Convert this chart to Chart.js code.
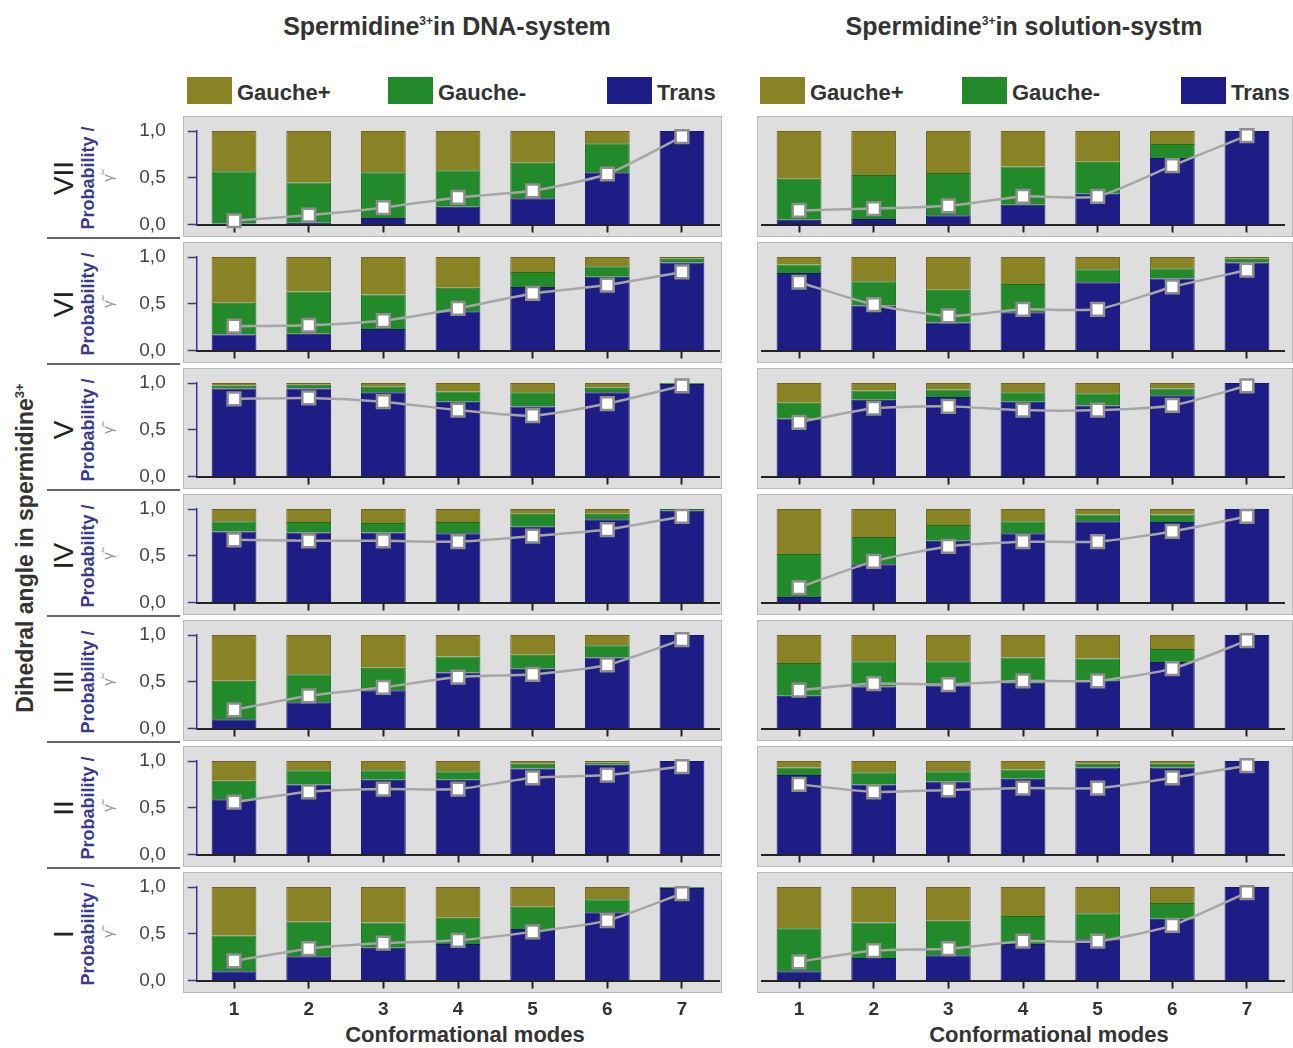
<!DOCTYPE html>
<html>
<head>
<meta charset="utf-8">
<title>Spermidine dihedral angles</title>
<script src="https://cdn.jsdelivr.net/npm/chart.js@4.4.1/dist/chart.umd.min.js"></script>
<style>
  body { margin: 0; background: #fff; }
  #page { position: relative; width: 1293px; height: 1048px; overflow: hidden; font-family: "Liberation Sans", Arial, sans-serif; color: #333; }
  canvas { position: absolute; }
  .title { position: absolute; top: 11px; width: 420px; line-height: 30px; text-align: center; font-weight: bold; font-size: 25px; }
  .title sup { font-size: 12px; vertical-align: 10px; line-height: 0; }
  .swatch { position: absolute; top: 77px; width: 45px; height: 27px; }
  .lg { position: absolute; top: 78px; line-height: 30px; font-weight: bold; font-size: 22px; }
  .rot { position: absolute; transform: translate(-50%, -50%) rotate(-90deg); white-space: nowrap; text-align: center; }
  .roman { font-size: 28px; color: #222; line-height: 30px; }
  .prob { font-weight: bold; font-size: 18px; color: #3a3a8c; line-height: 19px; }
  .gam { color: #9a9a9a; font-weight: normal; font-size: 15px; }
  .dihedral { font-weight: bold; font-size: 23px; color: #333; }
  .dihedral sup { font-size: 13px; line-height: 0; }
  .sep { position: absolute; left: 47px; width: 133px; height: 2px; background: #666; }
  .xtitle { position: absolute; top: 1020px; width: 400px; line-height: 30px; text-align: center; font-weight: bold; font-size: 22px; }
</style>
</head>
<body>
<div id="page">
  <div class="title" style="left:237px">Spermidine<sup>3+</sup>in DNA-system</div>
  <div class="title" style="left:814px">Spermidine<sup>3+</sup>in solution-systm</div>

  <!-- legends (same for both sides) -->
  <div class="swatch" style="left:187px;background:#8a8326"></div><div class="lg" style="left:237px">Gauche+</div>
  <div class="swatch" style="left:388px;background:#228a2a"></div><div class="lg" style="left:438px">Gauche-</div>
  <div class="swatch" style="left:607px;background:#1d1d85"></div><div class="lg" style="left:657px">Trans</div>
  <div class="swatch" style="left:760px;background:#8a8326"></div><div class="lg" style="left:810px">Gauche+</div>
  <div class="swatch" style="left:962px;background:#228a2a"></div><div class="lg" style="left:1012px">Gauche-</div>
  <div class="swatch" style="left:1181px;background:#1d1d85"></div><div class="lg" style="left:1231px">Trans</div>

  <div class="rot dihedral" style="left:25px;top:548px">Dihedral angle in spermidine<sup>3+</sup></div>

  <div class="xtitle" style="left:265px">Conformational modes</div>
  <div class="xtitle" style="left:849px">Conformational modes</div>
</div>

<script>
// categories and labels
const modes = ['1', '2', '3', '4', '5', '6', '7'];
const rowLabels = ['VII', 'VI', 'V', 'IV', 'III', 'II', 'I'];
const yTickMarks = [0, 0.25, 0.5, 0.75, 1];
const yTickLabels = ['0,0', '', '0,5', '', '1,0'];

// DNA-system, one row per dihedral (VII at top ... I at bottom)
const dnaTrans = [
  [0.01, 0.02, 0.07, 0.19, 0.28, 0.56, 1.00],
  [0.17, 0.18, 0.23, 0.42, 0.68, 0.79, 0.94],
  [0.94, 0.94, 0.90, 0.80, 0.75, 0.90, 0.99],
  [0.76, 0.75, 0.75, 0.74, 0.81, 0.89, 0.98],
  [0.10, 0.28, 0.41, 0.60, 0.64, 0.76, 1.00],
  [0.59, 0.75, 0.80, 0.80, 0.92, 0.96, 1.00],
  [0.10, 0.26, 0.35, 0.39, 0.55, 0.73, 0.99]
];
const dnaGaucheMinus = [
  [0.56, 0.43, 0.49, 0.39, 0.38, 0.31, 0.00],
  [0.34, 0.45, 0.37, 0.25, 0.16, 0.11, 0.04],
  [0.03, 0.04, 0.06, 0.11, 0.15, 0.05, 0.01],
  [0.11, 0.11, 0.10, 0.12, 0.14, 0.06, 0.02],
  [0.41, 0.30, 0.24, 0.17, 0.15, 0.13, 0.00],
  [0.20, 0.15, 0.10, 0.09, 0.05, 0.02, 0.00],
  [0.38, 0.37, 0.27, 0.28, 0.24, 0.14, 0.01]
];
const dnaGauchePlus = [
  [0.43, 0.55, 0.44, 0.42, 0.34, 0.13, 0.00],
  [0.49, 0.37, 0.40, 0.33, 0.16, 0.10, 0.02],
  [0.03, 0.02, 0.04, 0.09, 0.10, 0.05, 0.00],
  [0.13, 0.14, 0.15, 0.14, 0.05, 0.05, 0.00],
  [0.49, 0.42, 0.35, 0.23, 0.21, 0.11, 0.00],
  [0.21, 0.10, 0.10, 0.11, 0.03, 0.02, 0.00],
  [0.52, 0.37, 0.38, 0.33, 0.21, 0.13, 0.00]
];
const dnaGamma = [
  [0.04, 0.10, 0.18, 0.29, 0.36, 0.54, 0.94],
  [0.26, 0.27, 0.32, 0.45, 0.61, 0.70, 0.84],
  [0.83, 0.84, 0.80, 0.71, 0.65, 0.78, 0.97],
  [0.67, 0.66, 0.66, 0.65, 0.71, 0.78, 0.92],
  [0.20, 0.35, 0.44, 0.55, 0.58, 0.68, 0.95],
  [0.56, 0.67, 0.70, 0.70, 0.82, 0.85, 0.94],
  [0.21, 0.34, 0.40, 0.43, 0.52, 0.64, 0.93]
];

// solution-system
const solTrans = [
  [0.05, 0.06, 0.10, 0.21, 0.33, 0.71, 1.00],
  [0.83, 0.48, 0.30, 0.41, 0.73, 0.77, 0.94],
  [0.62, 0.82, 0.85, 0.80, 0.76, 0.87, 1.00],
  [0.06, 0.41, 0.66, 0.74, 0.87, 0.86, 1.00],
  [0.35, 0.45, 0.46, 0.49, 0.51, 0.71, 1.00],
  [0.85, 0.75, 0.78, 0.81, 0.93, 0.93, 1.00],
  [0.10, 0.24, 0.27, 0.39, 0.44, 0.66, 1.00]
];
const solGaucheMinus = [
  [0.44, 0.47, 0.45, 0.41, 0.34, 0.15, 0.00],
  [0.09, 0.26, 0.35, 0.30, 0.14, 0.11, 0.04],
  [0.17, 0.10, 0.08, 0.10, 0.13, 0.07, 0.00],
  [0.46, 0.29, 0.17, 0.13, 0.07, 0.08, 0.00],
  [0.35, 0.27, 0.26, 0.27, 0.24, 0.14, 0.00],
  [0.08, 0.13, 0.11, 0.10, 0.04, 0.04, 0.00],
  [0.46, 0.38, 0.37, 0.30, 0.28, 0.17, 0.00]
];
const solGauchePlus = [
  [0.51, 0.47, 0.45, 0.38, 0.33, 0.14, 0.00],
  [0.08, 0.26, 0.35, 0.29, 0.13, 0.12, 0.02],
  [0.21, 0.08, 0.07, 0.10, 0.11, 0.06, 0.00],
  [0.48, 0.30, 0.17, 0.13, 0.06, 0.06, 0.00],
  [0.30, 0.28, 0.28, 0.24, 0.25, 0.15, 0.00],
  [0.07, 0.12, 0.11, 0.09, 0.03, 0.03, 0.00],
  [0.44, 0.38, 0.36, 0.31, 0.28, 0.17, 0.00]
];
const solGamma = [
  [0.15, 0.17, 0.20, 0.30, 0.30, 0.63, 0.95],
  [0.73, 0.49, 0.37, 0.44, 0.44, 0.68, 0.86],
  [0.58, 0.73, 0.75, 0.71, 0.71, 0.76, 0.97],
  [0.16, 0.44, 0.60, 0.65, 0.65, 0.76, 0.92],
  [0.41, 0.48, 0.47, 0.51, 0.51, 0.64, 0.94],
  [0.75, 0.67, 0.69, 0.71, 0.71, 0.82, 0.95],
  [0.20, 0.32, 0.34, 0.42, 0.42, 0.59, 0.94]
];

const FONT = '"Liberation Sans", Arial, sans-serif';
const ROW_TOP = 114;
const ROW_PITCH = 126;
const AXIS_Y0 = 110.5;   // y of 0,0 inside a panel canvas
const page = document.getElementById('page');

// grey plot box behind each panel
const panelBox = {
  id: 'panelBox',
  beforeDraw(chart, args, o) {
    const ctx = chart.ctx;
    ctx.save();
    ctx.fillStyle = '#dedede';
    ctx.fillRect(o.x, o.y, o.w, o.h);
    ctx.strokeStyle = '#b9b9b9';
    ctx.lineWidth = 1;
    ctx.strokeRect(o.x + 0.5, o.y + 0.5, o.w - 1, o.h - 1);
    ctx.restore();
  }
};

function addDiv(cls, html, style) {
  const d = document.createElement('div');
  d.className = cls;
  d.innerHTML = html;
  d.style.cssText = style;
  page.appendChild(d);
}

function makePanel(isLeft, row, trans, gMinus, gPlus, gamma) {
  const isBottom = row === rowLabels.length - 1;
  const width = isLeft ? 604 : 536;
  const height = isBottom ? 178 : 126;
  const cv = document.createElement('canvas');
  cv.width = width;
  cv.height = height;
  cv.style.left = (isLeft ? 120 : 757) + 'px';
  cv.style.top = (ROW_TOP + ROW_PITCH * row) + 'px';
  page.appendChild(cv);

  const yScale = {
    display: isLeft,
    stacked: true,
    min: 0,
    max: 1,
    afterBuildTicks: s => { s.ticks = yTickMarks.map(v => ({ value: v })); },
    ticks: { callback: (v, i) => yTickLabels[i], color: '#444', padding: 22, font: { family: FONT, size: 19 } },
    grid: { drawOnChartArea: false, tickLength: 9, tickWidth: 1.5, tickColor: '#3a3a8c' },
    border: { color: '#3a3a8c', width: 1.5 }
  };
  if (isLeft) {
    // fixed axis width, and keep the tick labels from pushing the plot area in
    yScale.afterFit = s => { s.width = 76.7; s.paddingTop = 0; s.paddingBottom = 0; };
  }

  new Chart(cv, {
    type: 'bar',
    data: {
      labels: modes,
      datasets: [
        {
          type: 'line', label: 'gamma', data: gamma, yAxisID: 'y2', order: 0,
          borderColor: '#a6a6a6', borderWidth: 2.5, tension: 0.2,
          pointStyle: 'rect', pointRadius: 9, pointBackgroundColor: '#fff',
          pointBorderColor: '#8e8e8e', pointBorderWidth: 2.5, clip: false
        },
        { label: 'Trans', data: trans, backgroundColor: '#1d1d85', borderColor: '#16166a', borderWidth: 1, order: 1 },
        { label: 'Gauche-', data: gMinus, backgroundColor: '#228a2a', borderColor: '#18701f', borderWidth: 1, order: 1 },
        { label: 'Gauche+', data: gPlus, backgroundColor: '#8a8326', borderColor: '#6c661b', borderWidth: 1, order: 1 }
      ]
    },
    options: {
      responsive: false,
      animation: false,
      events: [],
      barPercentage: 0.6,
      categoryPercentage: 1,
      layout: { autoPadding: false, padding: { top: 17, bottom: 0, left: isLeft ? 0 : 4.7, right: isLeft ? 4.7 : 8.7 } },
      plugins: {
        legend: { display: false },
        tooltip: { enabled: false },
        panelBox: isLeft ? { x: 63, y: 2, w: 539, h: 121 } : { x: 0, y: 2, w: 536, h: 121 }
      },
      scales: {
        x: {
          stacked: true,
          grid: { drawOnChartArea: false, offset: false, tickLength: 8, tickWidth: 2, tickColor: '#222' },
          border: { color: '#222', width: 2 },
          ticks: { display: isBottom, color: '#333', padding: 10, maxRotation: 0, font: { family: FONT, size: 19, weight: 'bold' } },
          afterFit: s => { s.height = height - AXIS_Y0; s.paddingLeft = 0; s.paddingRight = 0; }
        },
        y: yScale,
        y2: { display: false, min: 0, max: 1 }
      }
    },
    plugins: [panelBox]
  });
}

rowLabels.forEach((lab, r) => {
  const cy = 177.75 + ROW_PITCH * r;
  addDiv('rot roman', lab, 'left:64px;top:' + cy + 'px');
  addDiv('rot prob', 'Probability /<br><span class="gam">&gamma;&#771;</span>', 'left:98px;top:' + cy + 'px');
  if (r < rowLabels.length - 1) {
    addDiv('sep', '', 'top:' + (237 + ROW_PITCH * r) + 'px');
  }
  makePanel(true, r, dnaTrans[r], dnaGaucheMinus[r], dnaGauchePlus[r], dnaGamma[r]);
  makePanel(false, r, solTrans[r], solGaucheMinus[r], solGauchePlus[r], solGamma[r]);
});
</script>
</body>
</html>
